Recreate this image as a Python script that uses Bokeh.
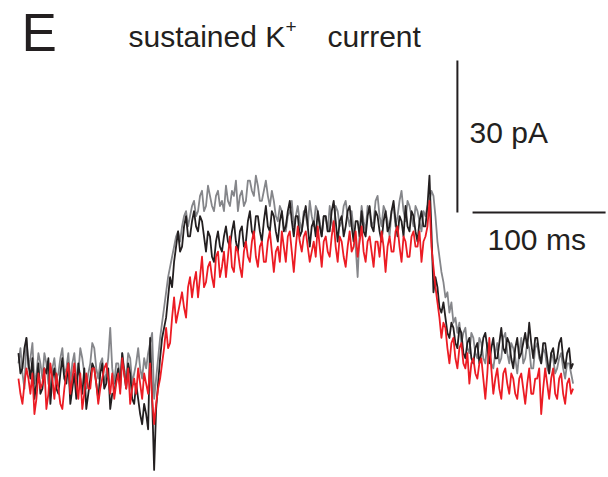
import numpy as np
from bokeh.plotting import figure
from bokeh.models import Range1d, Label
from bokeh.embed import file_html
from bokeh.resources import INLINE

# sampling interval of the traces (ms)
dt_ms = 1.5

# current traces (pA)
gray_pA = [4, 7, 2, -1, 9, 3, 5, 8, 0, 2, 6, 4, 1, 6, 4, 0, -1, 3, 5, 1,
           2, 5, 7, 2, 3, 6, 0, 4, 6, 1, 2, 7, 5, 2, -1, 2, 4, 8, 7, 3,
           1, 4, 5, 0, 2, 5, 11, 3, 0, 4, 4, 1, 6, 3, 1, 6, 5, 0, 2, 4,
           7, 3, 1, 5, 3, 6, 8, 10, -3, 1, 5, 9, 12, 15, 18, 21, 23, 25, 27, 29,
           30, 28, 31, 33, 34, 31, 33, 35, 36, 33, 34, 37, 38, 34, 35, 39, 37, 35, 34, 37,
           38, 35, 36, 34, 39, 36, 35, 38, 37, 40, 34, 37, 38, 35, 36, 40, 40, 38, 37, 41,
           39, 36, 36, 38, 40, 37, 35, 38, 36, 33, 32, 35, 34, 31, 30, 33, 34, 36, 31, 33,
           35, 32, 30, 34, 33, 31, 36, 33, 31, 35, 34, 32, 29, 33, 33, 30, 35, 32, 30, 35,
           34, 31, 32, 35, 36, 33, 31, 34, 30, 27, 21, 30, 35, 32, 30, 35, 34, 31, 32, 36,
           37, 33, 31, 35, 34, 32, 29, 34, 35, 31, 33, 36, 38, 34, 32, 36, 35, 33, 31, 35,
           34, 32, 30, 34, 33, 35, 36, 38, 37, 33, 28, 25, 22, 20, 17, 18, 14, 16, 12, 13,
           10, 12, 8, 10, 11, 7, 6, 10, 9, 6, 5, 9, 8, 5, 4, 8, 7, 4, 3, 6,
           8, 4, 5, 9, 10, 6, 4, 8, 7, 5, 2, 6, 9, 4, 5, 8, 7, 3, 3, 7,
           8, 5, 4, 7, 6, 3, 2, 6, 5, 2, 3, 5, 6, 3, 1, 4, 4, 2, 0]

black_pA = [6, 2, 3, 7, 9, 4, 1, 5, -3, 0, 4, -2, -1, 3, 2, 5, -4, 1, 3, -1,
            -2, 2, 5, 1, 0, 4, -4, -1, 2, -3, 4, 1, -2, 3, -5, -2, 1, 4, 3, 0,
            -3, 2, 4, -1, 0, 3, -5, -2, -2, 1, 3, -1, 6, 2, -1, 4, 2, -3, -4, 0,
            -3, -6, -8, -4, -6, -9, 9, -3, -17, -5, 0, 5, 9, 11, 13, 17, 21, 19, 24, 27,
            30, 26, 27, 31, 33, 29, 29, 32, 34, 31, 30, 33, 32, 29, 26, 30, 29, 25, 24, 28,
            30, 27, 26, 29, 31, 28, 27, 30, 32, 28, 26, 30, 31, 27, 28, 32, 34, 30, 29, 33,
            33, 30, 28, 32, 35, 31, 30, 34, 33, 30, 28, 32, 34, 30, 31, 34, 36, 32, 29, 33,
            33, 29, 30, 33, 35, 31, 27, 31, 32, 29, 34, 31, 29, 33, 33, 30, 30, 34, 36, 32,
            28, 32, 33, 29, 31, 34, 35, 31, 28, 32, 32, 29, 34, 30, 29, 33, 35, 31, 30, 34,
            33, 30, 28, 32, 34, 30, 31, 34, 36, 32, 29, 33, 32, 29, 35, 31, 30, 34, 33, 30,
            28, 32, 34, 31, 31, 35, 41, 30, 18, 21, 19, 15, 14, 16, 13, 10, 9, 12, 11, 8,
            7, 11, 10, 6, 5, 8, 9, 5, 4, 7, 8, 4, 6, 9, 10, 7, 4, 7, 9, 5,
            5, 8, 11, 7, 6, 9, 8, 5, 3, 7, 9, 5, 6, 8, 10, 7, 12, 8, 5, 9,
            9, 6, 4, 8, 8, 5, 2, 6, 7, 4, 5, 8, 9, 5, 3, 6, 7, 3, 4]

red_pA = [1, -2, -4, 0, 3, 1, -2, 2, -6, -3, 2, -1, 0, 3, -5, -2, 4, 1, -3, 2,
          -1, -4, -5, -1, 2, 4, -2, 1, 4, 0, -3, 2, -5, -2, 2, -1, -1, 3, 3, 0,
          -4, -1, 1, 3, 4, 1, -2, 2, -3, 0, 2, -2, 5, 2, -1, 3, -4, -1, 1, -2,
          3, 0, -3, 2, 0, -2, 4, -3, -8, -4, -1, 1, 4, 7, 11, 7, 8, 13, 17, 12,
          14, 16, 18, 15, 13, 19, 21, 17, 20, 22, 17, 21, 25, 19, 20, 23, 24, 21, 19, 25,
          26, 21, 23, 26, 21, 25, 29, 23, 22, 27, 26, 23, 21, 26, 28, 25, 24, 28, 30, 25,
          23, 27, 28, 24, 24, 28, 30, 26, 22, 26, 27, 24, 30, 27, 24, 29, 30, 26, 22, 27,
          31, 28, 26, 29, 30, 27, 24, 26, 28, 25, 31, 27, 23, 28, 29, 26, 25, 29, 32, 27,
          24, 29, 28, 25, 23, 27, 30, 26, 27, 30, 25, 28, 31, 26, 24, 28, 29, 26, 23, 28,
          28, 25, 30, 27, 22, 27, 29, 26, 26, 30, 31, 27, 24, 29, 28, 25, 25, 29, 30, 27,
          27, 30, 24, 28, 29, 31, 36, 27, 23, 19, 16, 13, 9, 12, 11, 7, 4, 8, 9, 5,
          3, 7, 8, 4, 3, 6, 0, 4, 5, 2, 1, 4, 5, 1, -3, 2, 9, 3, -2, 1,
          3, -1, -3, 2, 3, 0, -2, 2, 1, -2, -3, 1, 2, -1, -4, 0, 3, -2, -2, 1,
          1, 3, -6, -1, 3, 0, -3, 1, 3, -2, -3, 1, 2, -2, -4, 0, 1, -2, -1]

# scale bars
bar_pA = 30
bar_ms = 100
bar_x = 330
bar_y = 33.7

W, H = 608, 477
p = figure(width=W, height=H, output_backend="svg", toolbar_location=None,
           x_range=Range1d(-13.5, 443.6), y_range=Range1d(-18.5, 75.5),
           x_axis_location=None, y_axis_location=None, min_border=0)
p.grid.visible = False
p.outline_line_color = None
p.background_fill_color = "white"
p.border_fill_color = "white"

lw = 1.8
for trace, color in ((gray_pA, "#85868a"), (black_pA, "#231f20"), (red_pA, "#ec1c24")):
    t = np.arange(len(trace)) * dt_ms
    p.line(t, trace, line_color=color, line_width=lw, line_join="round")

# scale bars
p.line([bar_x, bar_x], [bar_y, bar_y + bar_pA], line_color="#231f20", line_width=2)
p.line([bar_x + 11.4, bar_x + 11.4 + bar_ms], [bar_y, bar_y], line_color="#231f20", line_width=2)

font = "Liberation Sans"
def lab(text, x, y_top, size, color="#231f20"):
    p.add_layout(Label(x=x, y=H - y_top, x_units="screen", y_units="screen", text=text,
                       text_font=font, text_font_size=size, text_color=color,
                       text_baseline="alphabetic"))

lab("E", 21, 32, "53px")
lab("sustained K", 128, 36, "30px")
lab("+", 285, 26, "19px")
lab("current", 327, 36, "30px")
lab(f"{bar_pA} pA", 469, 132, "30px")
lab(f"{bar_ms} ms", 487, 239, "30px")

open("out.html", "w").write(file_html(p, INLINE))
